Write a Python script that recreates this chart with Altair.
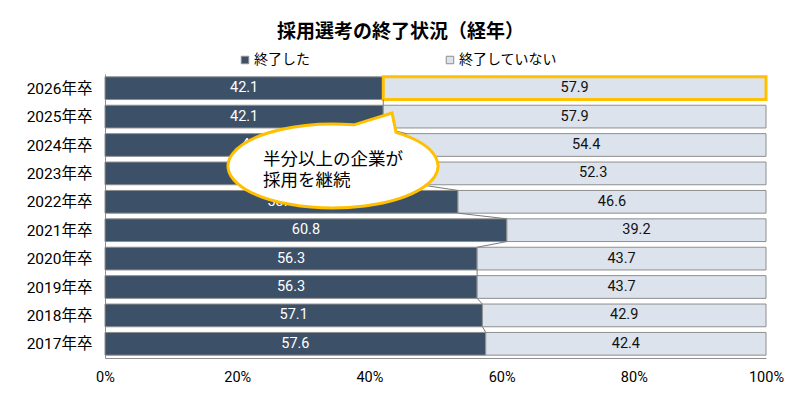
import json

import altair as alt
import pandas as pd

# values
years = ["2026年卒", "2025年卒", "2024年卒", "2023年卒", "2022年卒",
         "2021年卒", "2020年卒", "2019年卒", "2018年卒", "2017年卒"]
done = [42.1, 42.1, 45.6, 47.7, 53.4, 60.8, 56.3, 56.3, 57.1, 57.6]
not_done = [57.9, 57.9, 54.4, 52.3, 46.6, 39.2, 43.7, 43.7, 42.9, 42.4]
series = ["終了した", "終了していない"]
x_ticks = [0, 20, 40, 60, 80, 100]
note = "半分以上の企業が\n採用を継続"

DARK = "#3c5068"
LIGHT = "#dce3ec"
EDGE = "#8e8e8e"
GOLD = "#ffc000"
NUM_FONT = "Roboto, Noto Sans CJK JP"
JP_FONT = "Noto Sans CJK JP"

rows = []
for i, (y, d, n) in enumerate(zip(years, done, not_done)):
    rows.append({"row": i, "year": y, "series": series[0], "start": 0, "end": d, "value": d})
    rows.append({"row": i, "year": y, "series": series[1], "start": d, "end": d + n, "value": n})
bars_df = pd.DataFrame(rows)

links_df = pd.DataFrame({
    "from_row": list(range(len(done) - 1)),
    "a": done[:-1],
    "b": done[1:],
})

y_scale = alt.Scale(domain=[-0.5, len(years) - 0.5], reverse=True, nice=False, zero=False)
x_scale = alt.Scale(domain=[0, 100], nice=False)

base = alt.Chart(bars_df).transform_calculate(
    top="datum.row - 0.4", bottom="datum.row + 0.4", mid="(datum.start + datum.end) / 2"
)

bars = base.mark_bar(stroke=EDGE, strokeWidth=1).encode(
    x=alt.X("start:Q", scale=x_scale, title=None,
            axis=alt.Axis(values=x_ticks, labelExpr="datum.value + '%'", grid=False, ticks=False,
                          domainColor=EDGE, labelFont=NUM_FONT, labelFontSize=14.5,
                          labelColor="#000", labelPadding=12, labelFlush=False)),
    x2="end:Q",
    y=alt.Y("top:Q", scale=y_scale, title=None,
            axis=alt.Axis(values=list(range(len(years))), tickCount=len(years),
                          labelExpr=json.dumps(years, ensure_ascii=False) + "[datum.value]",
                          grid=False, ticks=False, domainColor=EDGE, labelFont=NUM_FONT,
                          labelFontSize=15.5, labelColor="#000", labelPadding=13,
                          labelOverlap=False, labelFlush=False, labelBound=False)),
    y2="bottom:Q",
    color=alt.Color("series:N", scale=alt.Scale(domain=series, range=[DARK, LIGHT]),
                    legend=alt.Legend(title=None, orient="none", legendX=133, legendY=-21,
                                      direction="horizontal", columnPadding=133,
                                      symbolType="square", symbolSize=56,
                                      symbolStrokeColor=EDGE, symbolStrokeWidth=1,
                                      labelFont=JP_FONT, labelFontSize=14, labelOffset=2)),
)

highlight = base.transform_filter(
    (alt.datum.row == 0) & (alt.datum.series == series[1])
).mark_bar(fillOpacity=0, stroke=GOLD, strokeWidth=3).encode(
    x="start:Q", x2="end:Q", y="top:Q", y2="bottom:Q"
)

links = alt.Chart(links_df).transform_calculate(
    y0="datum.from_row + 0.4", y1="datum.from_row + 0.6"
).mark_rule(color="#7a7a7a", strokeWidth=1).encode(
    x="a:Q", x2="b:Q", y="y0:Q", y2="y1:Q"
)

labels = base.mark_text(font=NUM_FONT, fontSize=14.5, baseline="middle").encode(
    x="mid:Q",
    y="row:Q",
    text=alt.Text("value:Q", format=".1f"),
    color=alt.Color("series:N", scale=alt.Scale(domain=series, range=["#ffffff", "#111111"]),
                    legend=None),
)

# speech bubble: ellipse with a pointer toward the 2025 boundary
bubble_path = "M 0.6 -0.32 A 1 0.4 0 1 1 0.2 -0.392 L 0.562 -0.505 Z"
bubble = alt.Chart(pd.DataFrame({"x": [34.5], "y": [2.74]})).mark_point(
    shape=bubble_path, size=210 * 210, filled=True, fill="#ffffff", fillOpacity=1,
    stroke=GOLD, strokeWidth=3, opacity=1
).encode(x="x:Q", y="y:Q")

bubble_text = alt.Chart(pd.DataFrame({"x": [23.9], "y": [2.53], "t": [note]})).mark_text(
    font=JP_FONT, fontSize=17.5, align="left", baseline="middle", lineBreak="\n",
    lineHeight=21, color="#000"
).encode(x="x:Q", y="y:Q", text="t:N")

chart = alt.layer(bars, highlight, links, labels, bubble, bubble_text).resolve_scale(
    color="independent"
).properties(
    width=661,
    height=284,
    autosize=alt.AutoSizeParams(type="none"),
    padding={"left": 97, "top": 66, "right": 20, "bottom": 39},
    title=alt.TitleParams("採用選考の終了状況（経年）", font=JP_FONT, fontSize=19,
                          fontWeight="bold", anchor="middle", dx=-35, offset=11, color="#000"),
    background="#ffffff",
).configure_view(stroke=None)

chart.save("out.html", embed_options={"renderer": "svg", "actions": False})
